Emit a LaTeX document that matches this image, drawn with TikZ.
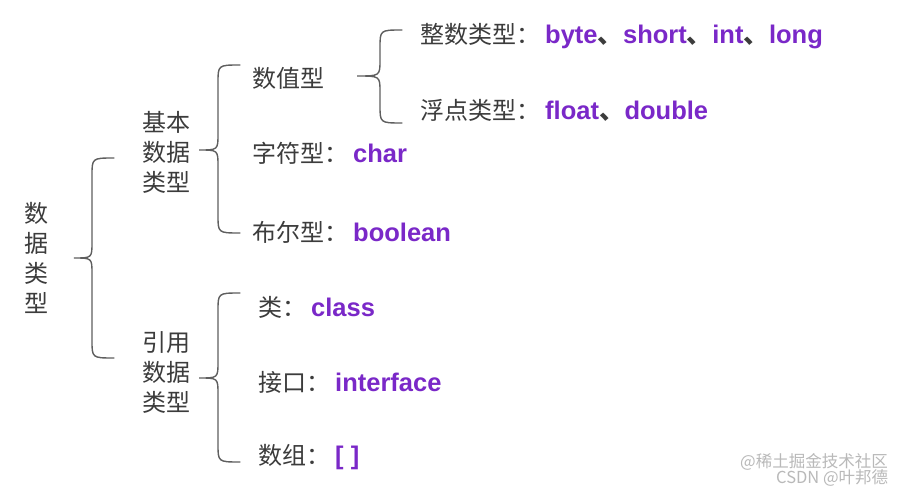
\documentclass[tikz,border=0pt]{standalone}
\usepackage{fontspec}
\setmainfont{Liberation Sans}
\newfontfamily\cjk{Noto Sans CJK SC}
\newfontfamily\lat{Liberation Sans}
\definecolor{kw}{RGB}{122,40,200}
\definecolor{txt}{RGB}{60,60,60}
\definecolor{br}{RGB}{95,95,95}
\newcommand{\kwd}[1]{\hspace{5pt}\textcolor{kw}{\lat\bfseries\fontsize{25.5}{28}\selectfont #1}}
\newcommand{\dun}{{\cjk\textcolor{txt}{、}}}
\newcommand{\drawbrace}[6]{% tipx, midy, vx, endx, top, bottom
  \draw[bracestyle] (#4,#5) .. controls (#3,#5) .. (#3,{#5+18}) -- (#3,{#2-16})
    .. controls (#3,#2) .. (#1,#2) .. controls (#3,#2) .. (#3,{#2+16})
    -- (#3,{#6-18}) .. controls (#3,#6) .. (#4,#6);}
\begin{document}
\begin{tikzpicture}[x=1pt,y=-1pt,
  bracestyle/.style={draw=br,line width=1.4pt,line cap=round},
  lbl/.style={anchor=west,inner sep=0pt,text=txt,font=\cjk\fontsize{24}{28}\selectfont},
  stack/.style={align=center,inner sep=0pt,text=txt,font=\cjk\fontsize{24}{30}\selectfont},
  wm/.style={inner sep=0pt,text=gray!55,font=\cjk\fontsize{16.5}{18}\selectfont}]
\useasboundingbox[fill=white] (0,0) rectangle (916,492);
% left column
\node[stack] (root) at (36,258) {数\\据\\类\\型};
\node[stack] (basic) at (166,152) {基本\\数据\\类型};
\node[stack] (ref) at (166,372) {引用\\数据\\类型};
% second level
\node[lbl] (num) at (252,78) {数值型};
\node[lbl] (chr) at (252,153) {字符型：\kwd{char}};
\node[lbl] (bool) at (252,232) {布尔型：\kwd{boolean}};
\node[lbl] (cls) at (258,307) {类：\kwd{class}};
\node[lbl] (itf) at (258,382) {接口：\kwd{interface}};
\node[lbl] (arr) at (258,457) {数组：\kwd{[ ]}};
% third level
\node[lbl] (int) at (420,36) {整数类型：\kwd{byte\dun short\dun int\dun long}};
\node[lbl] (flt) at (420,110) {浮点类型：\kwd{float\dun double}};
% braces
\drawbrace{74}{258}{92}{114}{158}{358}
\drawbrace{199}{150}{218}{240}{65}{233}
\drawbrace{357}{76}{380}{402}{30}{123}
\drawbrace{199}{378}{218}{240}{293}{462}
% watermarks
\node[wm,anchor=west] (wm1) at (740,462) {@稀土掘金技术社区};
\node[wm,anchor=west] (wm2) at (776,478) {CSDN @叶邦德};
\end{tikzpicture}
\end{document}
